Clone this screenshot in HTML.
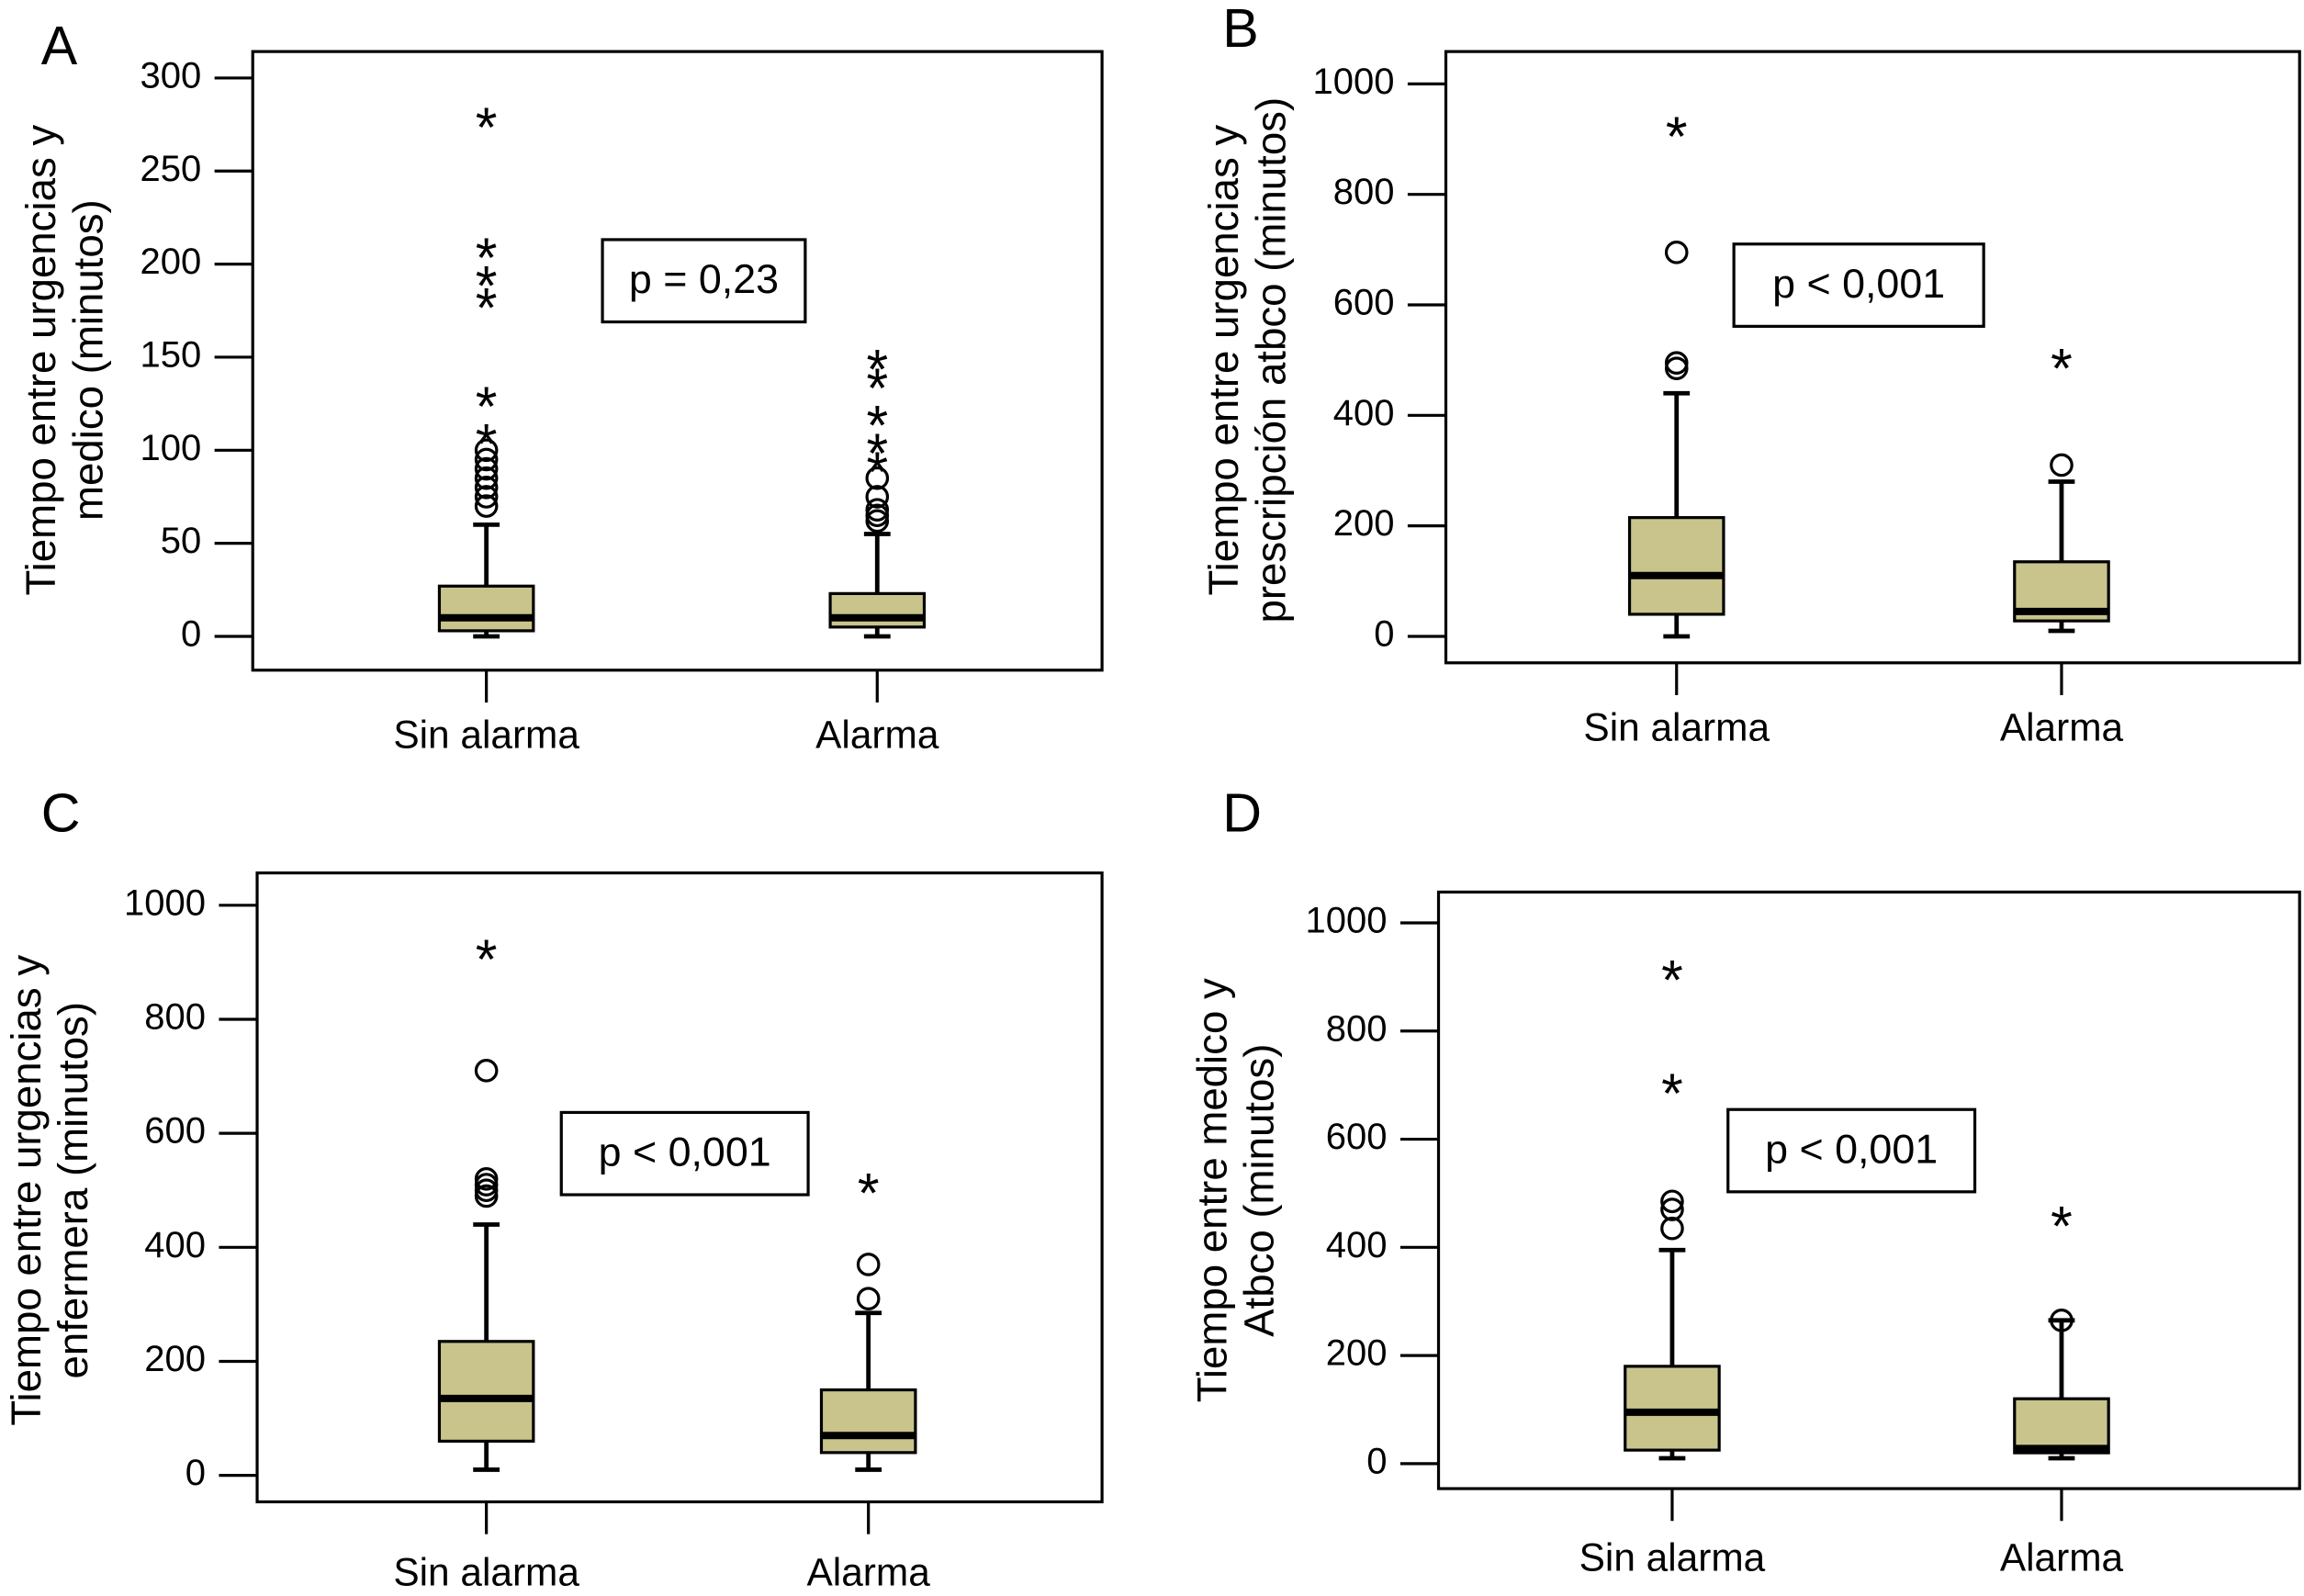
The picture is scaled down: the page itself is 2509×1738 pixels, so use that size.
<!DOCTYPE html>
<html><head><meta charset="utf-8"><style>
html,body{margin:0;padding:0;background:#fff;}
svg{display:block;font-family:"Liberation Sans",Arial,sans-serif;}
</style></head><body>
<svg id="fig" width="2509" height="1738" viewBox="0 0 1568 1086" xmlns="http://www.w3.org/2000/svg"></svg>
<script>
const groups = ["Sin alarma","Alarma"];
// Panel A
const aTicks=[0,50,100,150,200,250,300];
const aBoxes=[[0,3,10,27,60],[0,5,10,23,55]];
const aCircles=[[70,75,80,85,90,95,100],[62,65,68,75,85]];
const aStars=[[105,125,178,190,205,275],[90,100,115,135,145]];
// Panel B
const bTicks=[0,200,400,600,800,1000];
const bBoxes=[[0,40,110,215,440],[10,28,45,135,280]];
const bCircles=[[485,495,695],[310]];
const bStars=[[910],[490]];
// Panel C
const cTicks=[0,200,400,600,800,1000];
const cBoxes=[[10,60,135,235,440],[10,40,70,150,285]];
const cCircles=[[490,500,510,520,710],[310,370]];
const cStars=[[910],[500]];
// Panel D
const dTicks=[0,200,400,600,800,1000];
const dBoxes=[[10,25,95,180,395],[10,20,28,120,265]];
const dCircles=[[435,470,485],[265]];
const dStars=[[690,900],[445]];

const panels=[
 {id:"a",letter:"A",lx:28,ly:34,px:172,py:35,pw:578,ph:421,y0:433,ymax:300,ymaxY:53,gx:[331,597],ticks:aTicks,boxes:aBoxes,circles:aCircles,stars:aStars,
  title:["Tiempo entre urgencias y","medico (minutos)"],tx:[30,62],tcy:245,p:"p = 0,23",pb:[410,163,138,56],xly:502},
 {id:"b",letter:"B",lx:832,ly:22,px:984,py:35,pw:581,ph:416,y0:433,ymax:1000,ymaxY:57,gx:[1141,1403],ticks:bTicks,boxes:bBoxes,circles:bCircles,stars:bStars,
  title:["Tiempo entre urgencias y","prescripción atbco (minutos)"],tx:[835,867],tcy:245,p:"p < 0,001",pb:[1180,166,170,56],xly:497},
 {id:"c",letter:"C",lx:28,ly:556,px:175,py:594,pw:575,ph:428,y0:1004,ymax:1000,ymaxY:616,gx:[331,591],ticks:cTicks,boxes:cBoxes,circles:cCircles,stars:cStars,
  title:["Tiempo entre urgencias y","enfermera (minutos)"],tx:[20,52],tcy:810,p:"p < 0,001",pb:[382,757,168,56],xly:1072},
 {id:"d",letter:"D",lx:832,ly:556,px:979,py:607,pw:586,ph:406,y0:996,ymax:1000,ymaxY:628,gx:[1138,1403],ticks:dTicks,boxes:dBoxes,circles:dCircles,stars:dStars,
  title:["Tiempo entre medico y","Atbco (minutos)"],tx:[827,859],tcy:810,p:"p < 0,001",pb:[1176,755,168,56],xly:1062}
];
const NS="http://www.w3.org/2000/svg";
const svg=document.getElementById("fig");
function mk(tag,attrs,parent,text){const e=document.createElementNS(NS,tag);for(const k in attrs)e.setAttribute(k,attrs[k]);if(text!==undefined)e.textContent=text;(parent||svg).appendChild(e);return e;}
panels.forEach(P=>{
  const g=mk("g",{});
  
  
  const y=v=>P.y0-(v/P.ymax)*(P.y0-P.ymaxY);
  const L=mk("text",{x:P.lx,y:P.ly,"font-size":37,"dominant-baseline":"middle"},g,P.letter);
  
  
  const fr=mk("rect",{x:P.px,y:P.py,width:P.pw,height:P.ph,fill:"none",stroke:"#000","stroke-width":2},g);
  
  
  P.ticks.forEach(t=>{
    const ty=y(t);
    const tl=mk("line",{x1:P.px-26,x2:P.px,y1:ty,y2:ty,stroke:"#000","stroke-width":2},g);
    
    
    const tt=mk("text",{x:P.px-35,y:ty,"font-size":25,"text-anchor":"end","dominant-baseline":"middle"},g,String(t));
    
    
  });
  P.title.forEach((s,i)=>{
    const t=mk("text",{x:P.tx[i],y:P.tcy,"font-size":28.5,"text-anchor":"middle","dominant-baseline":"middle",transform:`rotate(-90 ${P.tx[i]} ${P.tcy})`},g,s);
    
    
  });
  const yb=P.py+P.ph;
  groups.forEach((name,gi)=>{
    const cx=P.gx[gi];
    const xt=mk("line",{x1:cx,x2:cx,y1:yb,y2:yb+22,stroke:"#000","stroke-width":2},g);
    
    
    const xl=mk("text",{x:cx,y:P.xly,"font-size":26.5,"text-anchor":"middle","dominant-baseline":"middle"},g,name);
    
    
    const b=P.boxes[gi];const hw=32;
    const w1=mk("line",{x1:cx,x2:cx,y1:y(b[0]),y2:y(b[1]),stroke:"#000","stroke-width":3},g);
    
    
    const w2=mk("line",{x1:cx,x2:cx,y1:y(b[3]),y2:y(b[4]),stroke:"#000","stroke-width":3},g);
    
    
    [b[0],b[4]].forEach(v=>{
      const c=mk("line",{x1:cx-9,x2:cx+9,y1:y(v),y2:y(v),stroke:"#000","stroke-width":3},g);
      
      
    });
    const bx=mk("rect",{x:cx-hw,y:y(b[3]),width:hw*2,height:y(b[1])-y(b[3]),fill:"#c8c48c",stroke:"#000","stroke-width":2},g);
    
    
    const md=mk("line",{x1:cx-hw,x2:cx+hw,y1:y(b[2]),y2:y(b[2]),stroke:"#000","stroke-width":5},g);
    
    
    P.circles[gi].forEach(v=>{
      const c=mk("circle",{cx:cx,cy:y(v),r:7,fill:"none",stroke:"#000","stroke-width":2},g);
      
      
    });
    P.stars[gi].forEach(v=>{
      const s=mk("text",{x:cx,y:y(v)+15,"font-size":38,"text-anchor":"middle"},g,"*");
      
      
    });
  });
  const pr=mk("rect",{x:P.pb[0],y:P.pb[1],width:P.pb[2],height:P.pb[3],fill:"#fff",stroke:"#000","stroke-width":2},g);
  
  
  const pt=mk("text",{x:P.pb[0]+P.pb[2]/2,y:P.pb[1]+P.pb[3]/2+1,"font-size":28,"text-anchor":"middle","dominant-baseline":"middle"},g,P.p);
  
  
});
</script>
</body></html>
